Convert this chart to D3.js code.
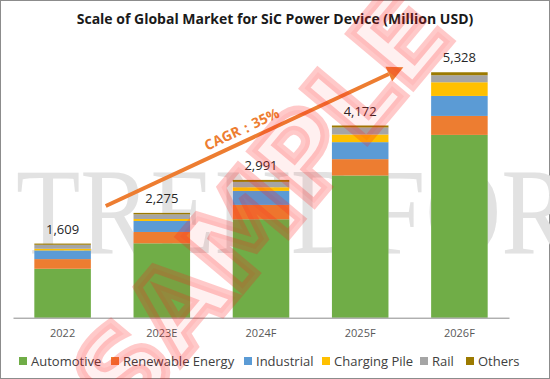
<!DOCTYPE html>
<html>
<head>
<meta charset="utf-8">
<script src="https://cdn.jsdelivr.net/npm/d3@7"></script>
<style>
  body { margin: 0; background: #fff; }
  text { font-family: "Open Sans", "Liberation Sans", sans-serif; }
</style>
</head>
<body>
<script>
var years = ["2022", "2023E", "2024F", "2025F", "2026F"];
var totals = [1609, 2275, 2991, 4172, 5328];
var segments = ["Automotive", "Renewable Energy", "Industrial", "Charging Pile", "Rail", "Others"];
var automotive = [1062, 1615, 2137, 3087, 3968];
var renewable = [210, 246, 311, 355, 412];
var industrial = [188, 239, 304, 369, 434];
var charging = [36, 43, 80, 166, 297];
var rail = [87, 101, 116, 152, 152];
var others = [26, 31, 43, 43, 65];
var colors = ["#70ad47", "#ed7d31", "#5b9bd5", "#ffc000", "#a5a5a5", "#9c7a00"];

var width = 550, height = 379;

var svg = d3.select("body").append("svg")
  .attr("width", width)
  .attr("height", height);

svg.append("rect")
  .attr("x", 0.5).attr("y", 0.5)
  .attr("width", width - 1).attr("height", height - 1)
  .attr("fill", "#fff").attr("stroke", "#8c8c8c");

// grey watermark behind the bars
svg.append("text")
  .attr("x", 16).attr("y", 253)
  .style("font-family", "'Liberation Serif', 'DejaVu Serif', serif")
  .style("font-size", "122px")
  .attr("fill", "#e2e2e2")
  .attr("textLength", 690)
  .attr("lengthAdjust", "spacingAndGlyphs")
  .text("TRENDFORCE");

svg.append("text")
  .attr("x", width / 2).attr("y", 24)
  .attr("text-anchor", "middle")
  .attr("font-size", 14)
  .attr("font-weight", "bold")
  .attr("fill", "#1a1a1a")
  .text("Scale of Global Market for SiC Power Device (Million USD)");

var x = d3.scaleBand().domain(years).range([13, 509]).paddingInner(0.43).paddingOuter(0.215);
var y = d3.scaleLinear().domain([0, 6000]).range([317.7, 41.3]);

var table = years.map(function(yr, i) {
  return {
    year: yr,
    "Automotive": automotive[i],
    "Renewable Energy": renewable[i],
    "Industrial": industrial[i],
    "Charging Pile": charging[i],
    "Rail": rail[i],
    "Others": others[i]
  };
});

var stack = d3.stack().keys(segments)(table);

var layer = svg.selectAll("g.layer")
  .data(stack)
  .enter().append("g")
  .attr("class", "layer")
  .attr("fill", function(d, i) { return colors[i]; });

layer.selectAll("rect")
  .data(function(d) { return d; })
  .enter().append("rect")
  .attr("x", function(d) { return x(d.data.year); })
  .attr("y", function(d) { return y(d[1]); })
  .attr("width", x.bandwidth())
  .attr("height", function(d) { return y(d[0]) - y(d[1]); });

var xAxis = svg.append("g")
  .attr("transform", "translate(0," + y(0) + ")")
  .call(d3.axisBottom(x).tickSize(0).tickPadding(12));
xAxis.select(".domain").attr("stroke", "#8c8c8c");
xAxis.selectAll("text").attr("font-size", 11).attr("fill", "#595959")
  .style("font-family", "'Open Sans', sans-serif");

svg.selectAll("text.total")
  .data(totals)
  .enter().append("text")
  .attr("class", "total")
  .attr("x", function(d, i) { return x(years[i]) + x.bandwidth() / 2; })
  .attr("y", function(d) { return y(d) - 10; })
  .attr("text-anchor", "middle")
  .attr("font-size", 13)
  .attr("fill", "#262626")
  .text(function(d) { return d3.format(",")(d); });

// CAGR arrow
var arrowStart = [x("2022") + x.step() * 0.72, y(2425)];
var arrowEnd = [x("2025F") + x.step() * 0.72, y(5436)];
var ang = Math.atan2(arrowEnd[1] - arrowStart[1], arrowEnd[0] - arrowStart[0]);
var headLen = 16, headW = 8;
var bx = arrowEnd[0] - headLen * Math.cos(ang), by = arrowEnd[1] - headLen * Math.sin(ang);

svg.append("line")
  .attr("x1", arrowStart[0]).attr("y1", arrowStart[1])
  .attr("x2", bx).attr("y2", by)
  .attr("stroke", "#ed7d31").attr("stroke-width", 4);

svg.append("path")
  .attr("d", "M" + arrowEnd[0] + "," + arrowEnd[1] +
    "L" + (bx + headW * Math.sin(ang)) + "," + (by - headW * Math.cos(ang)) +
    "L" + (bx - headW * Math.sin(ang)) + "," + (by + headW * Math.cos(ang)) + "Z")
  .attr("fill", "#ed7d31");

var mid = [(arrowStart[0] + arrowEnd[0]) / 2 - 13, (arrowStart[1] + arrowEnd[1]) / 2 - 8];
svg.append("text")
  .attr("transform", "translate(" + mid[0] + "," + mid[1] + ") rotate(" + (ang * 180 / Math.PI) + ")")
  .attr("text-anchor", "middle")
  .attr("dominant-baseline", "central")
  .attr("font-size", 14)
  .attr("font-weight", "bold")
  .attr("fill", "#ed7d31")
  .text("CAGR：35%");

// legend
var legendX = [19, 111, 244, 322, 420, 466];
var legend = svg.selectAll("g.legend")
  .data(segments)
  .enter().append("g")
  .attr("class", "legend")
  .attr("transform", function(d, i) { return "translate(" + legendX[i] + ",361)"; });

legend.append("rect")
  .attr("x", 0).attr("y", -4)
  .attr("width", 8).attr("height", 8)
  .attr("fill", function(d, i) { return colors[i]; });

legend.append("text")
  .attr("x", 12).attr("y", 4.5)
  .attr("font-size", 13)
  .attr("fill", "#404040")
  .text(function(d) { return d; });

// red SAMPLE watermark on top
svg.append("text")
  .attr("transform", "translate(262,205) rotate(-50)")
  .attr("text-anchor", "middle")
  .attr("dominant-baseline", "central")
  .style("font-family", "'DejaVu Sans', sans-serif")
  .style("font-weight", "bold")
  .style("font-size", "112px")
  .attr("fill", "rgba(255,0,0,0.06)")
  .attr("stroke", "rgba(255,30,30,0.24)")
  .attr("stroke-width", 9)
  .attr("stroke-linejoin", "miter")
  .text("SAMPLE");
</script>
</body>
</html>
